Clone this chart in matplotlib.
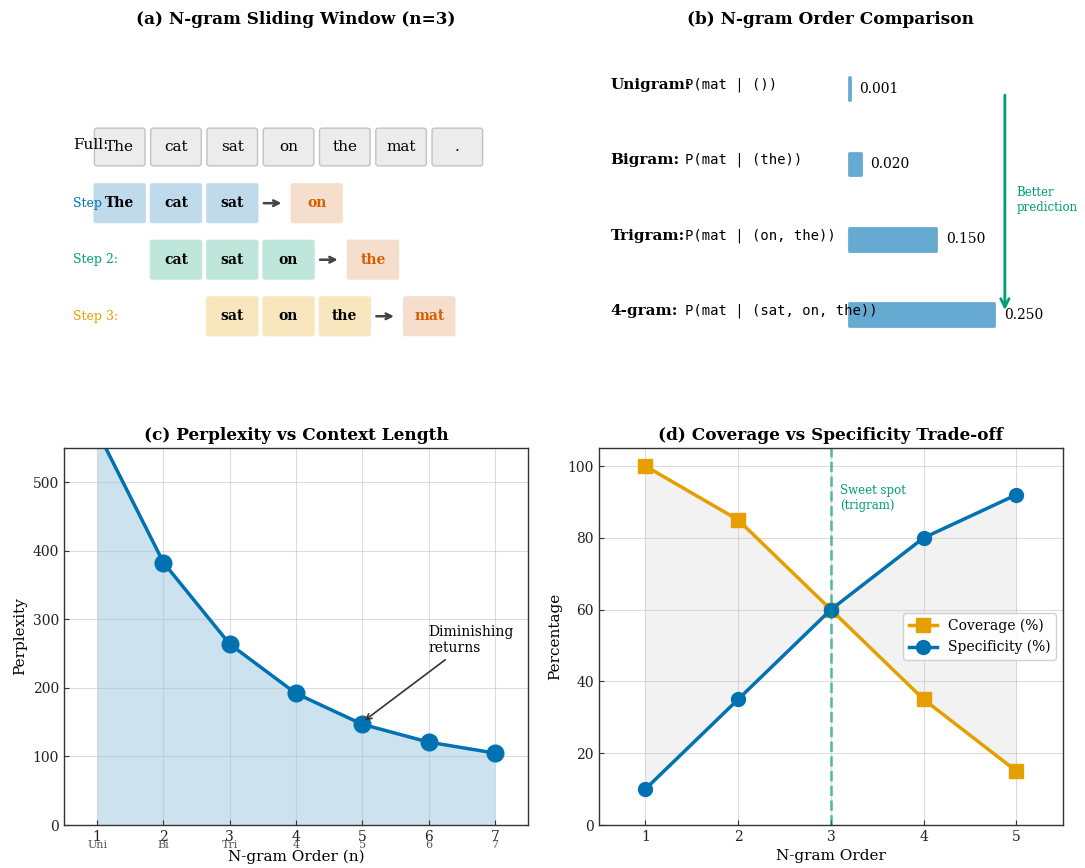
import matplotlib
matplotlib.use("Agg")
import matplotlib.pyplot as plt
from matplotlib.patches import FancyBboxPatch, FancyArrowPatch

plt.rcParams.update({
    "font.family": "DejaVu Serif",
    "font.size": 10,
    "axes.edgecolor": "#333333",
    "axes.linewidth": 1.0,
    "xtick.direction": "in",
    "ytick.direction": "in",
    "xtick.color": "#333333",
    "ytick.color": "#333333",
    "xtick.labelcolor": "#222222",
    "ytick.labelcolor": "#222222",
    "xtick.labelsize": 10,
    "ytick.labelsize": 10,
    "axes.labelsize": 11,
    "axes.titlesize": 12.2,
    "axes.titleweight": "bold",
})

BLUE = "#0072B2"
BLUE_SOFT = "#66AAD1"   # BLUE at 60% over white
ORANGE = "#E69F00"
GREEN = "#009E73"
VERMILION = "#D55E00"

# ---- data ----
sentence = ["The", "cat", "sat", "on", "the", "mat", "."]
window_n = 3
step_colors = [BLUE, GREEN, ORANGE]

order_names = ["Unigram:", "Bigram:", "Trigram:", "4-gram:"]
order_contexts = ["()", "(the)", "(on, the)", "(sat, on, the)"]
order_probs = [0.001, 0.020, 0.150, 0.250]

ppl_orders = [1, 2, 3, 4, 5, 6, 7]
ppl_values = [575, 383, 264, 192, 147, 121, 105]
ppl_sublabels = ["Uni", "Bi", "Tri", "4", "5", "6", "7"]

tradeoff_orders = [1, 2, 3, 4, 5]
coverage = [100, 85, 60, 35, 15]
specificity = [10, 35, 60, 80, 92]

fig = plt.figure(figsize=(10.85, 8.68), dpi=100)

W, H = 0.4276, 0.4343
axA = fig.add_axes([0.059, 0.5288, W, H])
axB = fig.add_axes([0.552, 0.5288, W, H])
axC = fig.add_axes([0.059, 0.0495, W, H])
axD = fig.add_axes([0.552, 0.0495, W, H])

# ---- (a) sliding window ----
axA.set_xlim(0, 10)
axA.set_ylim(0, 10)
axA.axis("off")
axA.set_title("(a) N-gram Sliding Window (n=3)")

spacing = 1.213
xs = [1.2 + spacing * i for i in range(len(sentence))]
y_full = 6.95
axA.text(0.2, y_full + 0.05, "Full:", fontsize=11, ha="left", va="center")
for x, word in zip(xs, sentence):
    axA.add_patch(FancyBboxPatch((x - 0.545, y_full - 0.5), 1.09, 1.0,
                                 boxstyle="round,pad=0,rounding_size=0.06",
                                 fc="#ececec", ec="#c2c2c2", lw=1))
    axA.text(x, y_full, word, fontsize=11, ha="center", va="center")

for k, col in enumerate(step_colors):
    y = 5.46 - 1.5 * k
    axA.text(0.2, y, f"Step {k + 1}:", fontsize=9, color=col,
             ha="left", va="center")
    for j in range(window_n):
        x = xs[k + j]
        axA.add_patch(FancyBboxPatch((x - 0.567, y - 0.535), 1.135, 1.07,
                                     boxstyle="round,pad=0,rounding_size=0.06",
                                     fc=col, ec="white", lw=0.8, alpha=0.25))
        axA.text(x, y, sentence[k + j], fontsize=10, fontweight="bold",
                 ha="center", va="center")
    last = xs[k + window_n - 1]
    axA.annotate("", xy=(last + 1.12, y), xytext=(last + 0.62, y),
                 arrowprops=dict(arrowstyle="->", color="#444444", lw=1.8))
    tx = last + 1.5 * spacing
    axA.add_patch(FancyBboxPatch((tx - 0.567, y - 0.535), 1.135, 1.07,
                                 boxstyle="round,pad=0,rounding_size=0.06",
                                 fc=VERMILION, ec="white", lw=0.8, alpha=0.2))
    axA.text(tx, y, sentence[k + window_n], fontsize=10, fontweight="bold",
             color=VERMILION, ha="center", va="center")

# ---- (b) order comparison ----
axB.set_xlim(0, 10)
axB.set_ylim(0, 10)
axB.axis("off")
axB.set_title("(b) N-gram Order Comparison")

rows_y = [8.5, 6.5, 4.5, 2.5]
bar_left = 5.4
bar_scale = 12.5
axB.barh(rows_y, [p * bar_scale for p in order_probs], height=0.6,
         left=bar_left, color=BLUE_SOFT, edgecolor=BLUE_SOFT,
         linewidth=2, joinstyle="round")
for y, name, ctx, p in zip(rows_y, order_names, order_contexts, order_probs):
    axB.text(0.25, y + 0.1, name, fontsize=11, fontweight="bold",
             ha="left", va="center")
    axB.text(1.85, y + 0.1, f"P(mat | {ctx})", fontsize=10,
             family="DejaVu Sans Mono", ha="left", va="center")
    axB.text(bar_left + p * bar_scale + 0.2, y, f"{p:.3f}", fontsize=10,
             ha="left", va="center")

axB.add_patch(FancyArrowPatch((8.75, 8.4), (8.75, 2.55), arrowstyle="->",
                              mutation_scale=15, color=GREEN, lw=2))
axB.text(9.0, 5.55, "Better\nprediction", fontsize=8.5, color=GREEN,
         ha="left", va="center")

# ---- (c) perplexity ----
axC.fill_between(ppl_orders, ppl_values, color=BLUE, alpha=0.2, lw=0)
axC.plot(ppl_orders, ppl_values, "o-", color=BLUE, lw=2.5, markersize=12)
axC.set_xlim(0.5, 7.5)
axC.set_ylim(0, 550)
axC.set_xticks(ppl_orders)
axC.grid(True, color="#bbbbbb", alpha=0.5, lw=0.8)
axC.set_xlabel("N-gram Order (n)", labelpad=4)
axC.set_ylabel("Perplexity")
axC.set_title("(c) Perplexity vs Context Length")
for x, lab in zip(ppl_orders, ppl_sublabels):
    axC.text(x, -0.053, lab, transform=axC.get_xaxis_transform(),
             fontsize=8, color="#555555", ha="center", va="center")
axC.annotate("Diminishing\nreturns", xy=(5, 150), xytext=(6, 252),
             fontsize=10,
             arrowprops=dict(arrowstyle="->", color="#333333", lw=1.2))

# ---- (d) coverage vs specificity ----
axD.fill_between(tradeoff_orders, coverage, specificity, color="gray",
                 alpha=0.1, lw=0)
axD.plot(tradeoff_orders, coverage, "s-", color=ORANGE, lw=2.5,
         markersize=10, label="Coverage (%)")
axD.plot(tradeoff_orders, specificity, "o-", color=BLUE, lw=2.5,
         markersize=10, label="Specificity (%)")
axD.axvline(3, color=GREEN, ls="--", lw=2, alpha=0.6)
axD.text(3.1, 95, "Sweet spot\n(trigram)", fontsize=8.5, color=GREEN,
         ha="left", va="top")
axD.set_xlim(0.5, 5.5)
axD.set_ylim(0, 105)
axD.set_xticks(tradeoff_orders)
axD.grid(True, color="#bbbbbb", alpha=0.5, lw=0.8)
axD.set_xlabel("N-gram Order")
axD.set_ylabel("Percentage")
axD.set_title("(d) Coverage vs Specificity Trade-off")
axD.legend(loc="center right", fontsize=10, framealpha=0.9,
           edgecolor="#cccccc")

fig.savefig("out.png", dpi=100)
